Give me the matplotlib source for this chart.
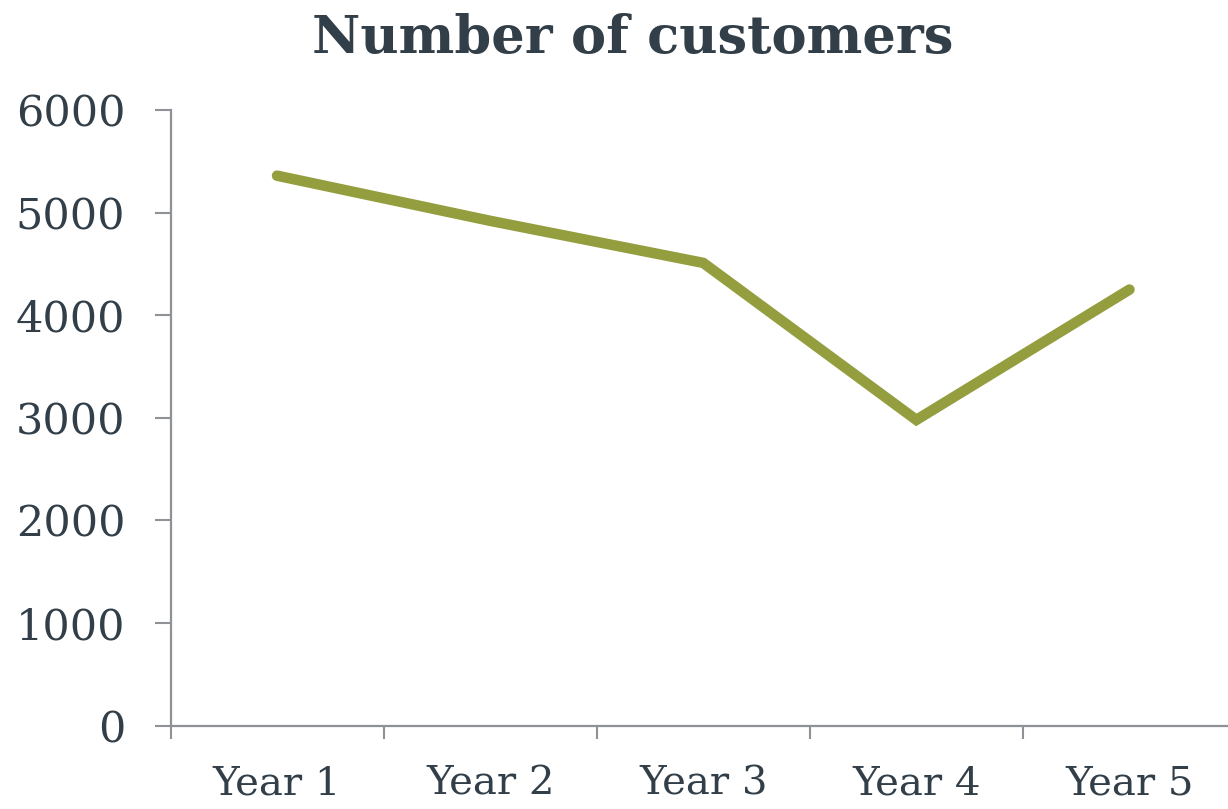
import matplotlib.pyplot as plt

# yearly customer counts
years = ["Year 1", "Year 2", "Year 3", "Year 4", "Year 5"]
customers = [5360, 4920, 4510, 2980, 4250]
yticks = [0, 1000, 2000, 3000, 4000, 5000, 6000]

text_col = "#333f48"
axis_col = "#8e9195"
line_col = "#949e3f"

plt.rcParams["font.family"] = ["DejaVu Serif"]

fig = plt.figure(figsize=(12.28, 8.09), dpi=100)
ax = fig.add_axes([170.5 / 1228, 83.3 / 809, 1065.5 / 1228, 615.7 / 809])

x = list(range(len(years)))
ax.plot(x, customers, color=line_col, lw=7.6, solid_capstyle="round", solid_joinstyle="miter")

ax.set_xlim(-0.5, 4.5)
ax.set_ylim(0, 6000)
ax.set_yticks(yticks)
ax.set_yticklabels([str(t) for t in yticks])

# category ticks sit between the labels
ax.set_xticks([i - 0.5 for i in x], minor=False)
ax.set_xticklabels([])
ax.set_xticks(x, minor=True)
ax.set_xticklabels(years, minor=True)
ax.tick_params(axis="x", which="minor", length=0, pad=29, labelsize=29, labelcolor=text_col)
ax.tick_params(axis="x", which="major", length=9.5, width=1.5, color=axis_col)
ax.tick_params(axis="y", length=11.5, width=1.5, color=axis_col, pad=21, labelsize=31, labelcolor=text_col)

for side in ["top", "right"]:
    ax.spines[side].set_visible(False)
for side in ["left", "bottom"]:
    ax.spines[side].set_color(axis_col)
    ax.spines[side].set_linewidth(1.6)

fig.text(633 / 1228, 1 - 39 / 809, "Number of customers", ha="center", va="center",
         fontsize=38, fontweight="bold", color=text_col)

fig.savefig("out.png", dpi=100)
